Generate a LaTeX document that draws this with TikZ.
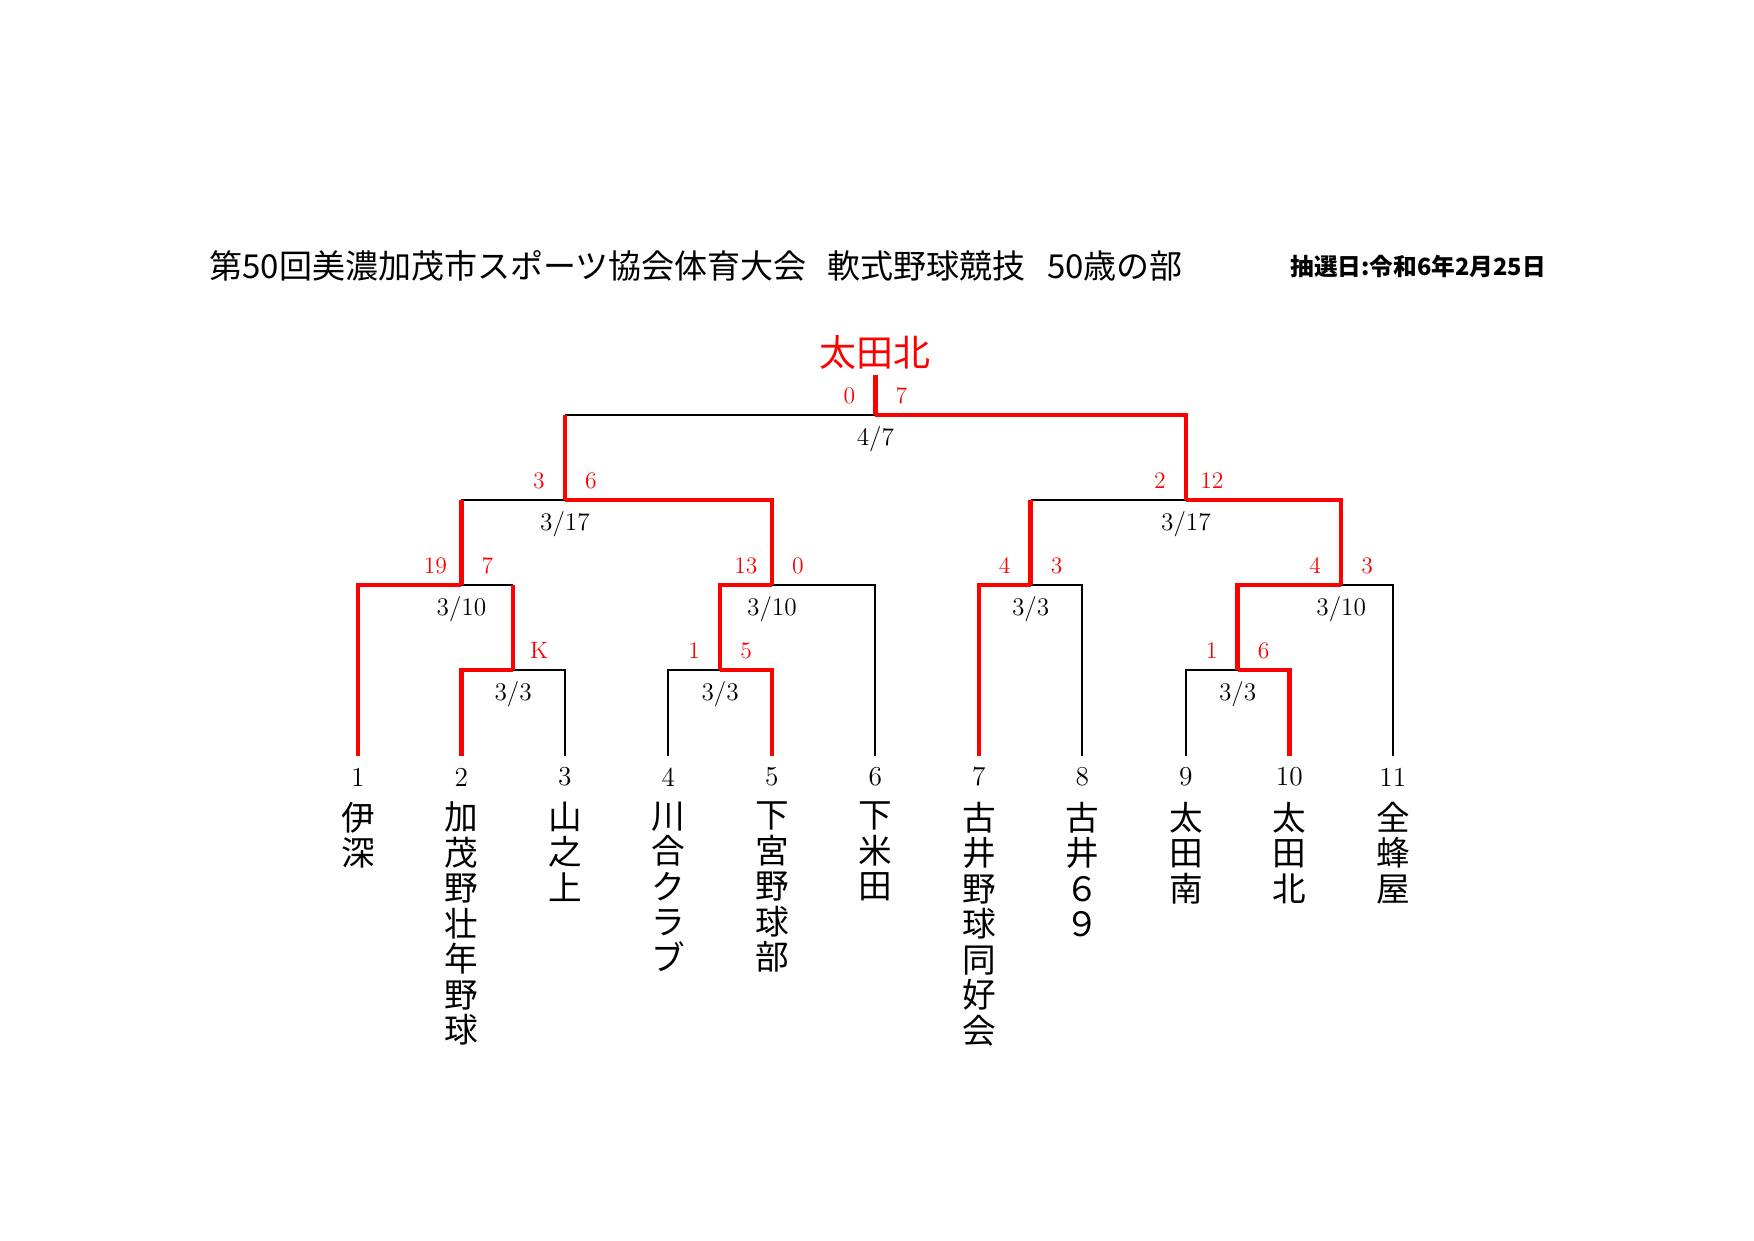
\documentclass[tikz,border=0pt]{standalone}
\usepackage{fontspec}
\newfontfamily\jp{Noto Sans CJK JP}
\tikzset{
  blk/.style={line width=1pt, black},
  win/.style={line width=2.2pt, red},
  score/.style={text=red, font=\fontsize{11.4}{13}\selectfont, inner sep=0pt},
  date/.style={font=\fontsize{12.2}{14}\selectfont, inner sep=0pt},
  num/.style={font=\fontsize{13.2}{15}\selectfont, inner sep=0pt},
  team/.style={font=\jp\fontsize{16.2}{17.1}\selectfont, align=center, anchor=north, inner sep=0pt},
}
\begin{document}
\begin{tikzpicture}[x=0.4818pt, y=-0.4818pt]
\useasboundingbox (0,0) rectangle (1754,1240);
% title and date
\node[anchor=west, inner sep=0pt, font=\jp\fontsize{15.9}{18}\selectfont] (title) at (209,266.2)
  {第50回美濃加茂市スポーツ協会体育大会\hspace{0.65em}軟式野球競技\hspace{0.65em}50歳の部};
\node[anchor=west, inner sep=0pt, font=\jp\bfseries\fontsize{11.4}{14}\selectfont] (draw) at (1290,266.2)
  {抽選日:令和6年2月25日};
\node[inner sep=0pt, text=red, font=\jp\fontsize{17.8}{20}\selectfont] (champ) at (875.4,352.3) {太田北};
% leaves
\foreach \i/\nm in {1/{伊\\深},2/{加\\茂\\野\\壮\\年\\野\\球},3/{山\\之\\上},4/{川\\合\\ク\\ラ\\ブ},
  5/{下\\宮\\野\\球\\部},6/{下\\米\\田},7/{古\\井\\野\\球\\同\\好\\会},8/{古\\井\\６\\９},
  9/{太\\田\\南},10/{太\\田\\北},11/{全\\蜂\\屋}}{
  \pgfmathsetmacro\xx{254.4+103.5*\i}
  \coordinate (b\i) at (\xx,756);
  \node[num] (n\i) at (\xx,777) {\i};
  \node[team] (t\i) at (\xx,801.5) {\nm};
}
% junctions
\coordinate (j1) at (513.15,670);
\coordinate (j2) at (720.15,670);
\coordinate (j3) at (1237.65,670);
\coordinate (k1) at (461.4,585);
\coordinate (k2) at (771.9,585);
\coordinate (k3) at (1030.65,585);
\coordinate (k4) at (1341.15,585);
\coordinate (s1) at (564.9,500);
\coordinate (s2) at (1185.9,500);
\coordinate (f) at (875.4,415);
\coordinate (w) at (875.4,374.7);
% losing branches
\draw[blk] (b3) |- (j1);
\draw[blk] (b4) |- (j2);
\draw[blk] (b6) |- (k2);
\draw[blk] (b8) |- (k3);
\draw[blk] (b9) |- (j3);
\draw[blk] (b11) |- (k4);
\draw[blk] (k1) -- (j1 |- k1);
\draw[blk] (k1 |- s1) -- (s1);
\draw[blk] (k3 |- s2) -- (s2);
\draw[blk] (s1 |- f) -- (f);
% winning branches
\draw[win] (b1) |- (k1);
\draw[win] (b2) |- (j1);
\draw[win] (j1) -- (j1 |- k1);
\draw[win] (k1) -- (k1 |- s1);
\draw[win] (b5) |- (j2);
\draw[win] (j2) |- (k2);
\draw[win] (k2) |- (s1);
\draw[win] (s1) -- (s1 |- f);
\draw[win] (b7) |- (k3);
\draw[win] (k3) -- (k3 |- s2);
\draw[win] (b10) |- (j3);
\draw[win] (j3) |- (k4);
\draw[win] (k4) |- (s2);
\draw[win] (s2) |- (f);
\draw[win] (f) -- (w);
% scores and dates
\foreach \c/\l/\r/\d in {j1//K/{3/3}, j2/1/5/{3/3}, j3/1/6/{3/3},
  k1/19/7/{3/10}, k2/13/0/{3/10}, k3/4/3/{3/3}, k4/4/3/{3/10},
  s1/3/6/{3/17}, s2/2/12/{3/17}, f/0/7/{4/7}}{
  \node[score] (\c-l) at ([shift={(-26,-19.5)}]\c) {\l};
  \node[score] (\c-r) at ([shift={(26,-19.5)}]\c) {\r};
  \node[date] (\c-d) at ([shift={(0,24)}]\c) {\d};
}
\end{tikzpicture}
\end{document}
